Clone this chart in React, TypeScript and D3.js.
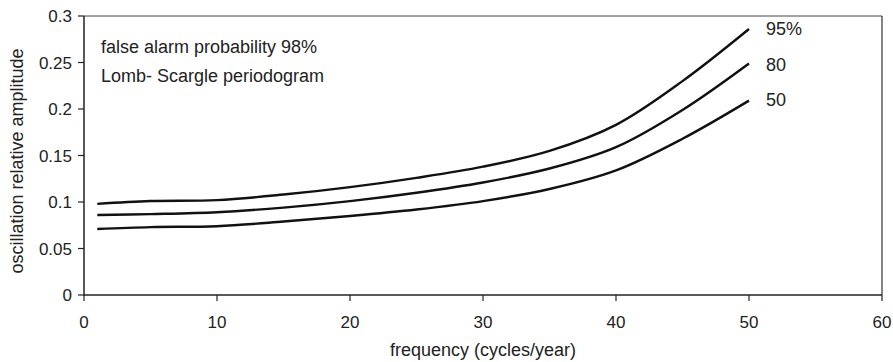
import React from "react";
import * as d3 from "d3";

const frequencies = [1, 5, 10, 15, 20, 25, 30, 35, 40, 45, 50];
const level95 = [0.098, 0.101, 0.102, 0.108, 0.116, 0.126, 0.138, 0.155, 0.183, 0.23, 0.286];
const level80 = [0.086, 0.087, 0.089, 0.094, 0.101, 0.11, 0.121, 0.136, 0.159, 0.199, 0.249];
const level50 = [0.071, 0.073, 0.074, 0.079, 0.085, 0.092, 0.101, 0.114, 0.134, 0.168, 0.209];
const seriesLabels = ["95%", "80", "50"];
const xTicks = [0, 10, 20, 30, 40, 50, 60];
const yTicks = [0, 0.05, 0.1, 0.15, 0.2, 0.25, 0.3];
const annotations = ["false alarm probability 98%", "Lomb- Scargle periodogram"];

const W = 893;
const H = 362;
const left = 84;
const right = 882;
const top = 16;
const bottom = 295;
const font = "'Liberation Sans', Arial, Helvetica, sans-serif";

export default function App() {
  const x = d3.scaleLinear().domain([0, 60]).range([left, right]);
  const y = d3.scaleLinear().domain([0, 0.3]).range([bottom, top]);
  const line = d3
    .line<[number, number]>()
    .x((d) => x(d[0]))
    .y((d) => y(d[1]))
    .curve(d3.curveCatmullRom.alpha(0.5));
  const series = [level95, level80, level50];
  const labelY = [35, 71, 106];

  return (
    <svg
      width={W}
      height={H}
      style={{ position: "absolute", left: 0, top: 0, background: "#fff" }}
      fontFamily={font}
    >
      {/* frame */}
      <line x1={left} x2={right} y1={top} y2={top} stroke="#444" strokeWidth={1} />
      <line x1={right} x2={right} y1={top} y2={bottom} stroke="#333" strokeWidth={1.2} />
      <line x1={left} x2={left} y1={top} y2={bottom + 0.5} stroke="#222" strokeWidth={1.5} />
      <line x1={left} x2={right} y1={bottom} y2={bottom} stroke="#222" strokeWidth={1.5} />
      {/* x ticks */}
      {xTicks.map((t) => (
        <g key={"x" + t}>
          <line x1={x(t)} x2={x(t)} y1={bottom} y2={bottom + 6} stroke="#222" strokeWidth={1.2} />
          <text x={x(t)} y={328} textAnchor="middle" fontSize={17} fill="#222">
            {t}
          </text>
        </g>
      ))}
      {/* y ticks */}
      {yTicks.map((t) => (
        <g key={"y" + t}>
          <line x1={left - 6} x2={left} y1={y(t)} y2={y(t)} stroke="#222" strokeWidth={1.2} />
          <text x={72} y={y(t) + 6} textAnchor="end" fontSize={17} fill="#222">
            {String(t)}
          </text>
        </g>
      ))}
      {/* curves */}
      {series.map((s, i) => (
        <path
          key={"s" + i}
          d={line(frequencies.map((f, j) => [f, s[j]] as [number, number])) || ""}
          fill="none"
          stroke="#111"
          strokeWidth={2.4}
        />
      ))}
      {seriesLabels.map((l, i) => (
        <text key={"l" + i} x={766} y={labelY[i]} fontSize={18} fill="#222">
          {l}
        </text>
      ))}
      {annotations.map((a, i) => (
        <text key={"a" + i} x={101} y={53 + i * 28.5} fontSize={18} fill="#222">
          {a}
        </text>
      ))}
      <text x={(left + right) / 2} y={356} textAnchor="middle" fontSize={18} fill="#222">
        frequency (cycles/year)
      </text>
      <text
        transform={`translate(23,${161}) rotate(-90)`}
        textAnchor="middle"
        fontSize={18}
        fill="#222"
      >
        oscillation relative amplitude
      </text>
    </svg>
  );
}
